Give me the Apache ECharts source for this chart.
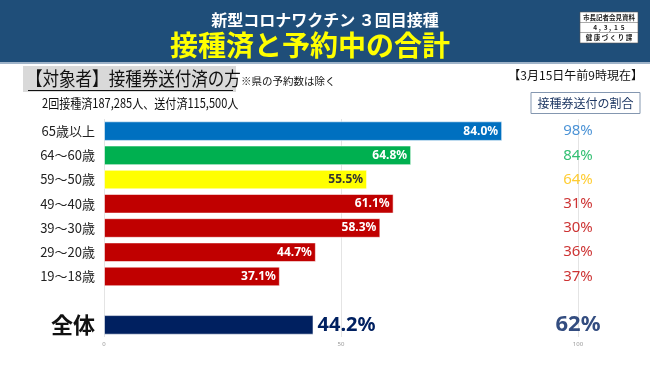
<!DOCTYPE html>
<html>
<head>
<meta charset="utf-8">
<script src="https://cdn.jsdelivr.net/npm/echarts@6/dist/echarts.min.js"></script>
<style>
html,body{margin:0;padding:0;background:#fff;}
#chart{width:650px;height:365px;}
</style>
</head>
<body>
<div id="chart"></div>
<script>
const categories = ['65歳以上', '64〜60歳', '59〜50歳', '49〜40歳', '39〜30歳', '29〜20歳', '19〜18歳', '', '全体'];
const rates = [84.0, 64.8, 55.5, 61.1, 58.3, 44.7, 37.1, null, 44.2];
const sentRatios = [98, 84, 64, 31, 30, 36, 37, null, 62];
const xTicks = [0, 50, 100];
const barColors = ['#0070c0', '#00b050', '#ffff00', '#c00000', '#c00000', '#c00000', '#c00000', '#ffffff', '#002060'];
const ratioColors = ['#1f78cc', '#00b050', '#ffc000', '#c00000', '#c00000', '#c00000', '#c00000', '#ffffff', '#002060'];

const JP = '"Noto Sans CJK JP", "Noto Sans", sans-serif';
const chart = echarts.init(document.getElementById('chart'), null, {renderer: 'canvas'});

const barData = rates.map((v, i) => {
  if (v === null) return null;
  const total = categories[i] === '全体';
  return {
    value: v,
    itemStyle: {color: barColors[i]},
    label: total ? {
      position: 'right', distance: 4, color: '#002060', fontSize: 20, fontWeight: 'bold', fontFamily: '"Noto Sans", sans-serif'
    } : {
      position: 'insideRight', distance: 4, color: barColors[i] === '#ffff00' ? '#333333' : '#ffffff',
      fontSize: 12, fontWeight: 'bold', fontFamily: '"Noto Sans", sans-serif'
    }
  };
});

const ratioData = sentRatios.map((v, i) => {
  if (v === null) return null;
  const total = categories[i] === '全体';
  return {
    value: [xTicks[2], i],
    label: {
      color: ratioColors[i],
      fontSize: total ? 22 : 15,
      fontWeight: total ? 'bold' : 'normal',
      fontFamily: '"Noto Sans", sans-serif',
      formatter: v + '%'
    }
  };
});

chart.setOption({
  animation: false,
  backgroundColor: '#ffffff',
  grid: {left: 104, right: 72, top: 119, bottom: 28, containLabel: false},
  xAxis: {
    type: 'value', min: xTicks[0], max: xTicks[2], interval: xTicks[1] - xTicks[0],
    axisLine: {show: false}, axisTick: {show: false},
    splitLine: {lineStyle: {color: '#e4e4e4', width: 1}},
    axisLabel: {fontSize: 6, color: '#999999', margin: 4, fontFamily: '"Noto Sans", sans-serif'}
  },
  yAxis: {
    type: 'category', inverse: true, data: categories,
    axisLine: {show: false}, axisTick: {show: false},
    axisLabel: {
      margin: 9, color: '#222222', fontSize: 13, fontFamily: JP,
      formatter: (v) => v === '全体' ? '{t|' + v + '}' : v,
      rich: {t: {fontSize: 22, fontWeight: 'bold', color: '#111111', fontFamily: JP}}
    }
  },
  series: [
    {
      type: 'bar', data: barData, barCategoryGap: '19%',
      itemStyle: {borderColor: 'rgba(255,255,255,0.55)', borderWidth: 1},
      label: {show: true, formatter: (p) => p.value.toFixed(1) + '%'}
    },
    {
      type: 'scatter', data: ratioData, symbolSize: 1,
      itemStyle: {color: 'rgba(0,0,0,0)'},
      label: {show: true, position: 'inside'}
    }
  ],
  graphic: [
    {type: 'rect', shape: {x: 0, y: 0, width: 650, height: 63}, style: {fill: '#1f4e79'}, silent: true},
    {type: 'rect', shape: {x: 0, y: 62, width: 650, height: 2}, style: {fill: '#9fb3c8'}, silent: true},
    {type: 'text', x: 325, y: 20, style: {text: '新型コロナワクチン ３回目接種', fill: '#ffffff', font: 'bold 16px ' + JP, textAlign: 'center', textVerticalAlign: 'middle'}},
    {type: 'text', x: 310, y: 45, style: {text: '接種済と予約中の合計', fill: '#ffff00', font: 'bold 28px ' + JP, textAlign: 'center', textVerticalAlign: 'middle'}},
    {type: 'rect', shape: {x: 580, y: 12, width: 58, height: 31}, style: {fill: '#ffffff', stroke: '#555555', lineWidth: 0.6}},
    {type: 'line', shape: {x1: 580, y1: 22.5, x2: 638, y2: 22.5}, style: {stroke: '#555555', lineWidth: 0.5}},
    {type: 'line', shape: {x1: 580, y1: 32.5, x2: 638, y2: 32.5}, style: {stroke: '#555555', lineWidth: 0.5}},
    {type: 'text', x: 609, y: 17.5, style: {text: '市長記者会見資料', fill: '#222', font: 'bold 6.5px ' + JP, textAlign: 'center', textVerticalAlign: 'middle'}},
    {type: 'text', x: 609, y: 27.5, style: {text: '4 ,  3 ,  1  5', fill: '#222', font: 'bold 6.5px ' + JP, textAlign: 'center', textVerticalAlign: 'middle'}},
    {type: 'text', x: 609, y: 37.5, style: {text: '健 康 づ く り 課', fill: '#222', font: 'bold 6.5px ' + JP, textAlign: 'center', textVerticalAlign: 'middle'}},
    {type: 'rect', shape: {x: 23, y: 66, width: 213, height: 26}, style: {fill: '#d9d9d9'}},
    {type: 'text', x: 26, y: 79, scaleX: 0.87, style: {text: '【対象者】接種券送付済の方', fill: '#111111', font: '19px ' + JP, textAlign: 'left', textVerticalAlign: 'middle'}},
    {type: 'line', shape: {x1: 28, y1: 90.5, x2: 233, y2: 90.5}, style: {stroke: '#111111', lineWidth: 1}},
    {type: 'text', x: 241, y: 81, style: {text: '※県の予約数は除く', fill: '#111111', font: '10.5px ' + JP, textAlign: 'left', textVerticalAlign: 'middle'}},
    {type: 'text', x: 42, y: 103, scaleX: 0.85, style: {text: '2回接種済187,285人、送付済115,500人', fill: '#111111', font: '13px ' + JP, textAlign: 'left', textVerticalAlign: 'middle'}},
    {type: 'text', x: 643, y: 75, style: {text: '【3月15日午前9時現在】', fill: '#111111', font: '12px ' + JP, textAlign: 'right', textVerticalAlign: 'middle'}},
    {type: 'rect', shape: {x: 531, y: 92.5, width: 109, height: 21}, style: {fill: '#ffffff', stroke: '#8497b0', lineWidth: 1}},
    {type: 'text', x: 585.5, y: 103, style: {text: '接種券送付の割合', fill: '#1f3864', font: '12px ' + JP, textAlign: 'center', textVerticalAlign: 'middle'}}
  ]
});
</script>
</body>
</html>
